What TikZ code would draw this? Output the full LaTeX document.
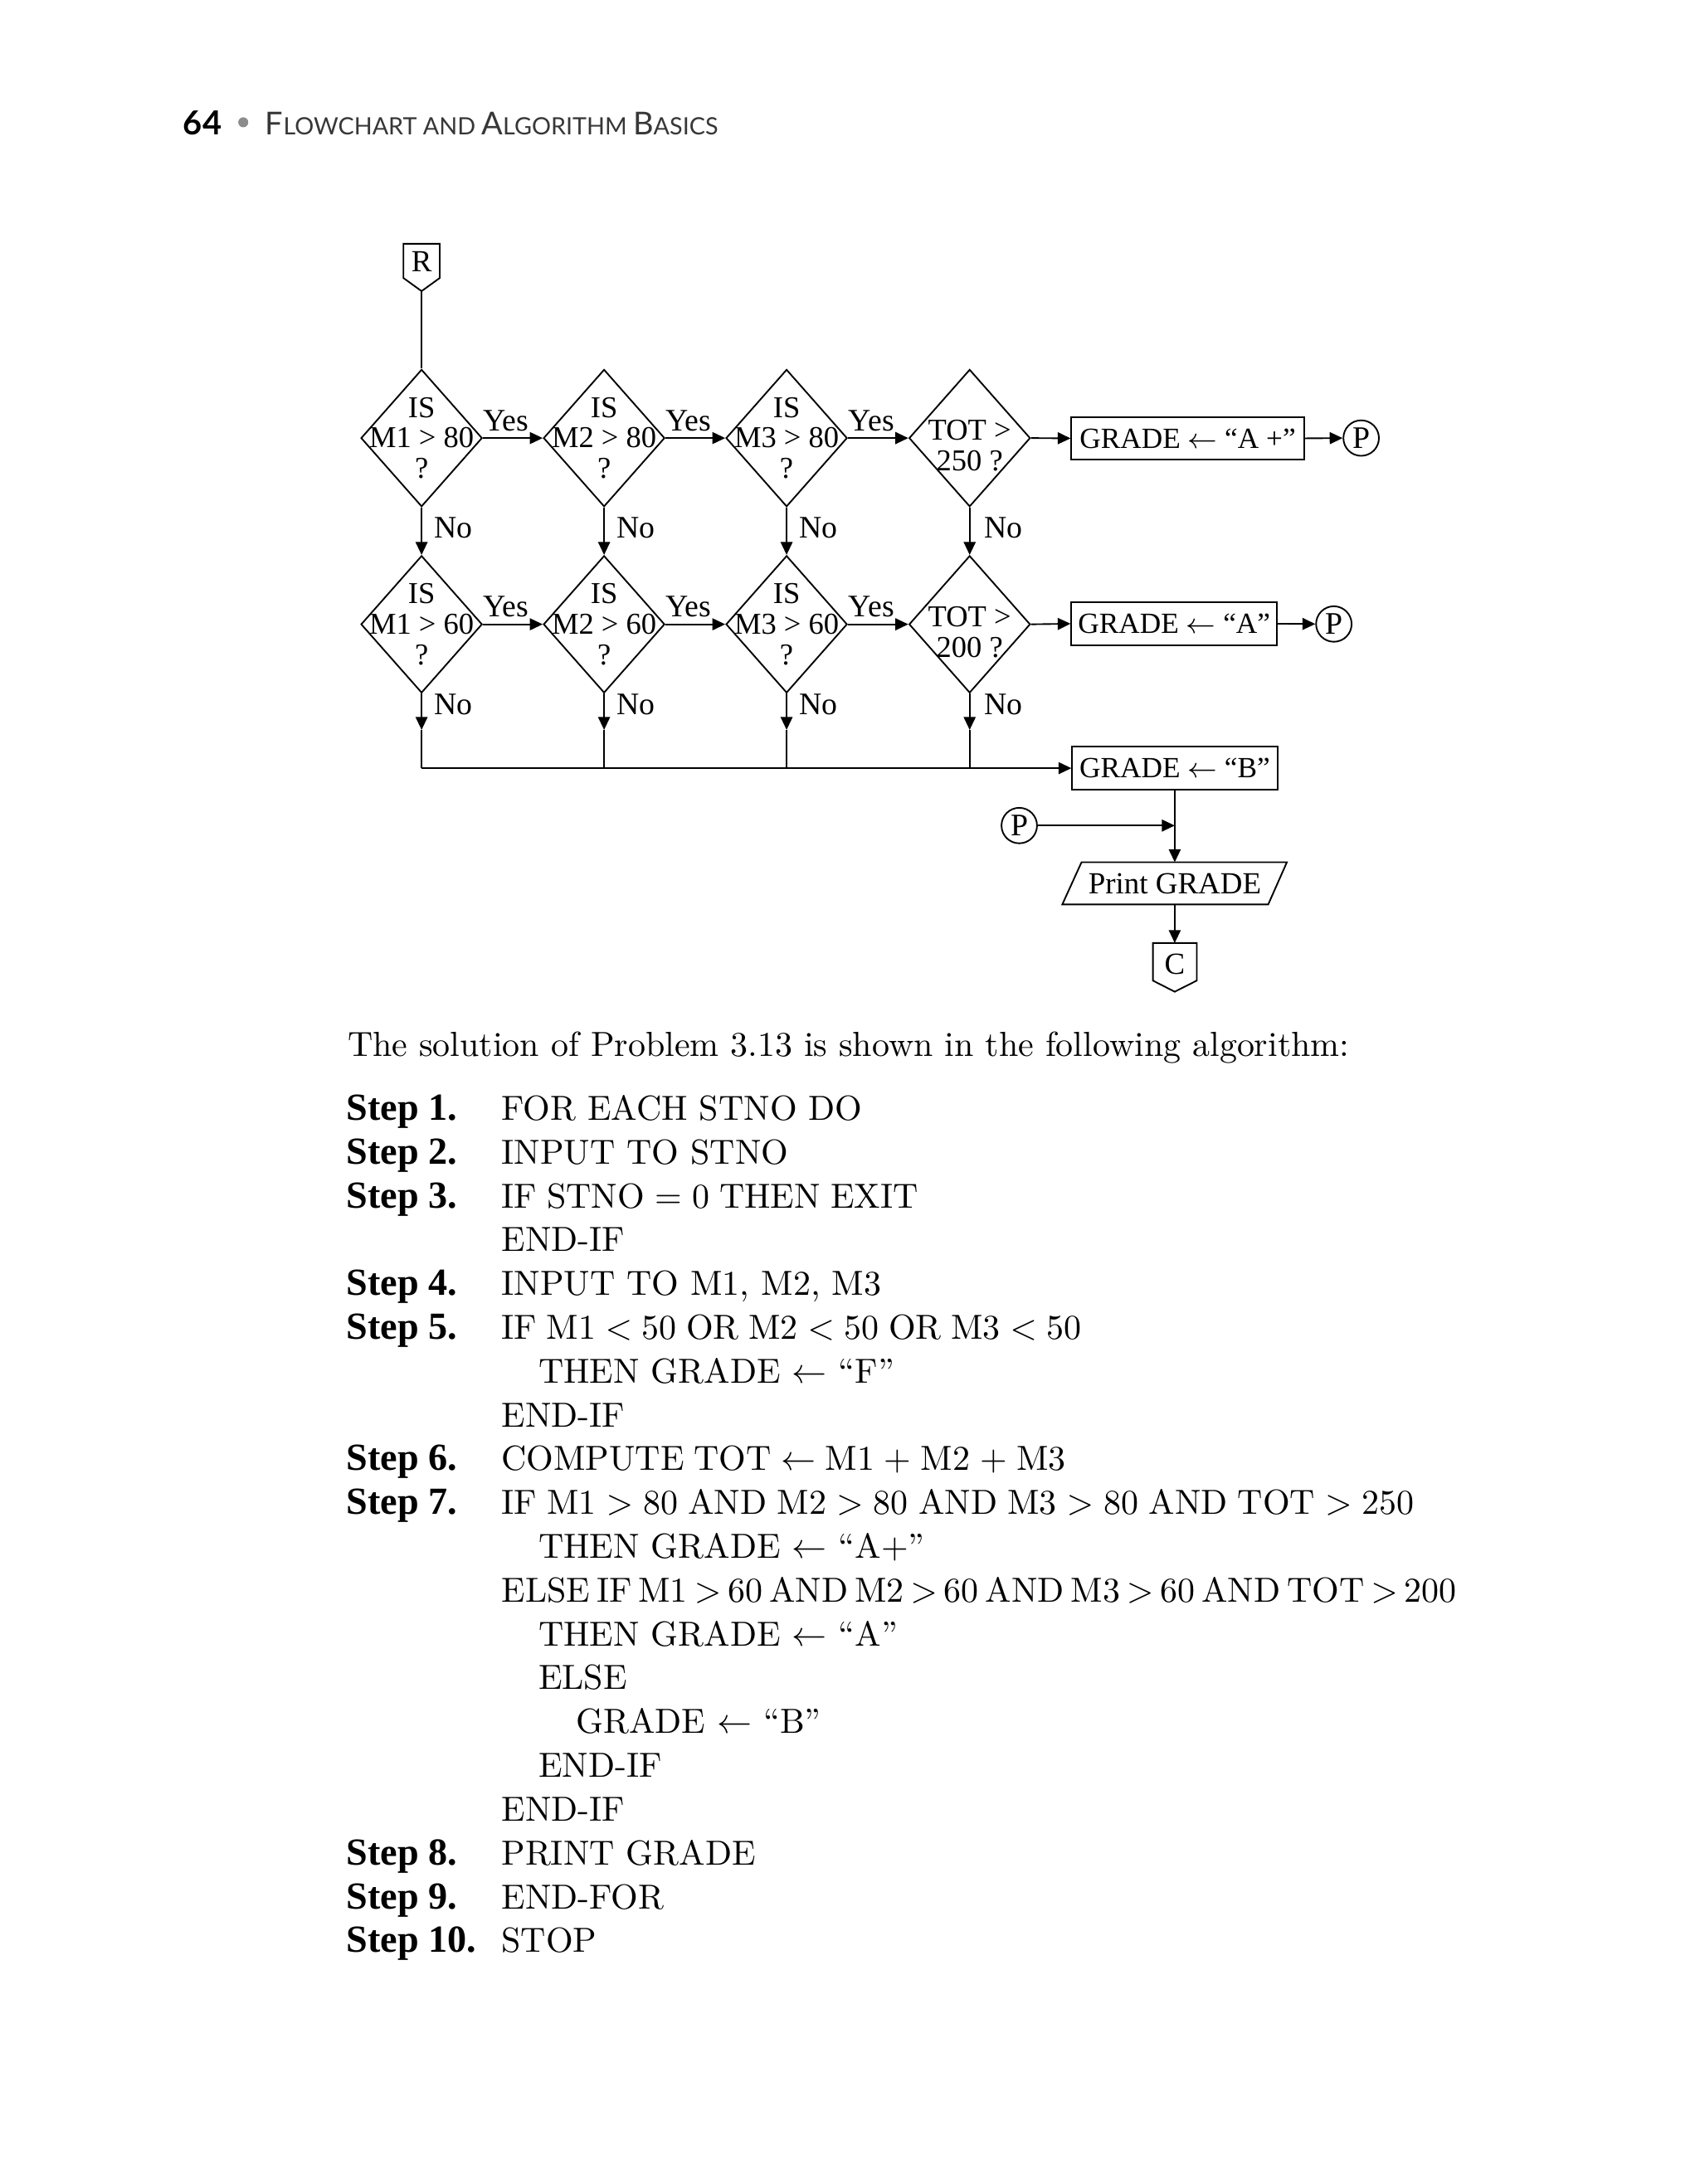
\documentclass[tikz,border=0pt]{standalone}
\usepackage{fontspec}
\usetikzlibrary{arrows.meta,shapes.geometric}
\newfontfamily\fcfont{Liberation Serif}
\newfontfamily\hdfont{Lato}
\definecolor{hdgray}{RGB}{55,55,55}
\definecolor{bulletgray}{RGB}{140,140,140}
\newcommand{\hdbig}{\fontsize{9.06}{10}\selectfont}
\newcommand{\hdsml}{\fontsize{6.85}{10}\selectfont}
\begin{document}
\begin{tikzpicture}[x=0.4pt,y=-0.4pt,
  line width=0.45pt,
  arr/.style={-{Triangle[length=3.7pt,width=3.4pt]}},
  dia/.style={draw,shape=diamond,minimum width=34.8pt,minimum height=39.4pt,inner sep=0pt},
  dtext/.style={font=\fcfont\fontsize{8.7}{8.8}\selectfont,align=center,inner sep=0pt},
  fc/.style={font=\fcfont\fontsize{8.8}{10}\selectfont,inner sep=0pt},
  lbl/.style={font=\fcfont\fontsize{9}{10}\selectfont,inner sep=0pt},
  box/.style={draw,rectangle,inner sep=0pt,font=\fcfont\fontsize{8.4}{10}\selectfont},
  circ/.style={draw,circle,minimum size=10.2pt,inner sep=0pt,font=\fcfont\fontsize{9}{10}\selectfont},
  alg/.style={anchor=base west,inner sep=0pt,font=\fontsize{10}{12}\selectfont},
  stp/.style={anchor=base west,inner sep=0pt,font=\fcfont\bfseries\fontsize{11}{12}\selectfont},
]
\useasboundingbox (0,0) rectangle (1220,1568);

% ---------- header ----------
\node[anchor=base west,inner sep=0pt,font=\hdfont\bfseries\fontsize{9.5}{10}\selectfont] (pgno) at (131,96.9) {64};
\fill[bulletgray] (174.6,87.8) circle (1.44pt);
\node[anchor=base west,inner sep=0pt,text=hdgray,font=\hdfont] (hdr) at (190,96.9)
  {\hdbig F\hdsml LOWCHART AND \hdbig A\hdsml LGORITHM \hdbig B\hdsml ASICS};

% ---------- connector R ----------
\draw (289.6,175) -- (315.6,175) -- (315.6,199.6) -- (302.6,209) -- (289.6,199.6) -- cycle;
\node[fc] (rn) at (302.6,188) {R};
\coordinate (rtip) at (302.6,209);

% ---------- decisions ----------
\node[dia] (a1) at (302.6,314.5) {};
\node[dia] (a2) at (433.6,314.5) {};
\node[dia] (a3) at (564.6,314.5) {};
\node[dia] (a4) at (696,314.5) {};
\node[dia] (b1) at (302.6,448.2) {};
\node[dia] (b2) at (433.6,448.2) {};
\node[dia] (b3) at (564.6,448.2) {};
\node[dia] (b4) at (696,448.2) {};

\node[dtext] (ta1) at (a1) {IS\\M1 > 80\\?};
\node[dtext] (ta2) at (a2) {IS\\M2 > 80\\?};
\node[dtext] (ta3) at (a3) {IS\\M3 > 80\\?};
\node[dtext,yshift=-2.26pt] (ta4) at (a4) {TOT >\\250 ?};
\node[dtext] (tb1) at (b1) {IS\\M1 > 60\\?};
\node[dtext] (tb2) at (b2) {IS\\M2 > 60\\?};
\node[dtext] (tb3) at (b3) {IS\\M3 > 60\\?};
\node[dtext,yshift=-2.26pt] (tb4) at (b4) {TOT >\\200 ?};

\draw (rtip) -- (a1.north);

% Yes arrows
\draw[arr] (a1.east) -- (a2.west);
\draw[arr] (a2.east) -- (a3.west);
\draw[arr] (a3.east) -- (a4.west);
\draw[arr] (b1.east) -- (b2.west);
\draw[arr] (b2.east) -- (b3.west);
\draw[arr] (b3.east) -- (b4.west);
\node[lbl,anchor=base] (y1) at (363,309.6) {Yes};
\node[lbl,anchor=base] (y2) at (494,309.6) {Yes};
\node[lbl,anchor=base] (y3) at (625.5,309.6) {Yes};
\node[lbl,anchor=base] (y4) at (363,443) {Yes};
\node[lbl,anchor=base] (y5) at (494,443) {Yes};
\node[lbl,anchor=base] (y6) at (625.5,443) {Yes};

% No arrows row 1 -> row 2
\draw[arr] (a1.south) -- (b1.north);
\draw[arr] (a2.south) -- (b2.north);
\draw[arr] (a3.south) -- (b3.north);
\draw[arr] (a4.south) -- (b4.north);
\node[lbl,anchor=base west] (n1) at (311,386) {No};
\node[lbl,anchor=base west] (n2) at (442,386) {No};
\node[lbl,anchor=base west] (n3) at (573,386) {No};
\node[lbl,anchor=base west] (n4) at (706,386) {No};

% No arrows row 2 -> collector
\coordinate (c1) at (302.6,524); \coordinate (e1) at (302.6,551.5);
\coordinate (c2) at (433.6,524); \coordinate (e2) at (433.6,551.5);
\coordinate (c3) at (564.6,524); \coordinate (e3) at (564.6,551.5);
\coordinate (c4) at (696,524);   \coordinate (e4) at (696,551.5);
\draw[arr] (b1.south) -- (c1); \draw (c1) -- (e1);
\draw[arr] (b2.south) -- (c2); \draw (c2) -- (e2);
\draw[arr] (b3.south) -- (c3); \draw (c3) -- (e3);
\draw[arr] (b4.south) -- (c4); \draw (c4) -- (e4);
\node[lbl,anchor=base west] (m1) at (311,513.3) {No};
\node[lbl,anchor=base west] (m2) at (442,513.3) {No};
\node[lbl,anchor=base west] (m3) at (573,513.3) {No};
\node[lbl,anchor=base west] (m4) at (706,513.3) {No};

% ---------- process boxes ----------
\node[box,minimum width=66.8pt,minimum height=12.24pt] (gap) at (852.5,314.7) {GRADE $\leftarrow$ “A +”};
\node[box,minimum width=59.04pt,minimum height=12.2pt] (ga) at (842.8,447.8) {GRADE $\leftarrow$ “A”};
\node[box,minimum width=58.9pt,minimum height=12.4pt] (gb) at (843.2,551.5) {GRADE $\leftarrow$ “B”};
\node[circ] (p1) at (977,314.5) {P};
\node[circ] (p2) at (957.4,448) {P};
\node[circ] (p3) at (731.6,592.7) {P};

\draw[arr] (a4.east) -- (gap.west);
\draw[arr] (b4.east) -- (ga.west);
\draw[arr] (gap.east) -- (p1.west);
\draw[arr] (ga.east) -- (p2.west);
\draw[arr] (e1) -- (gb.west);

% ---------- print and C ----------
\coordinate (jn) at (843.2,592.7);
\coordinate (prtop) at (843.2,619);
\coordinate (prbot) at (843.2,649.3);
\coordinate (ctop) at (843.2,677);
\draw[arr] (gb.south) -- (prtop);
\draw[arr] (p3.east) -- (jn);
\draw (776.3,619) -- (923.7,619) -- (910.3,649.3) -- (762.5,649.3) -- cycle;
\node[fc] (prn) at (843.2,634.3) {Print GRADE};
\draw[arr] (prbot) -- (ctop);
\draw (827.5,677) -- (859,677) -- (859,704) -- (843.2,712) -- (827.5,704) -- cycle;
\node[fc] (cn) at (843.2,692) {C};

% ---------- algorithm ----------
\node[alg] (intro) at (249,758.4) {The solution of Problem 3.13 is shown in the following algorithm:};

\node[stp] (s1)  at (248.2,804.2) {Step 1.};
\node[alg] (l0)  at (359.4,804.2) {FOR EACH STNO DO};
\node[stp] (s2)  at (248.2,835.65) {Step 2.};
\node[alg] (l1)  at (359.4,835.65) {INPUT TO STNO};
\node[stp] (s3)  at (248.2,867.1) {Step 3.};
\node[alg] (l2)  at (359.4,867.1) {\spaceskip=2.9pt IF STNO = 0 THEN EXIT};
\node[alg] (l3)  at (359.4,898.55) {END-IF};
\node[stp] (s4)  at (248.2,930.0) {Step 4.};
\node[alg] (l4)  at (359.4,930.0) {INPUT TO M1, M2, M3};
\node[stp] (s5)  at (248.2,961.45) {Step 5.};
\node[alg] (l5)  at (359.4,961.45) {\spaceskip=2.75pt IF M1 $<$ 50 OR M2 $<$ 50 OR M3 $<$ 50};
\node[alg] (l6)  at (386,992.9) {THEN GRADE $\leftarrow$ “F”};
\node[alg] (l7)  at (359.4,1024.35) {END-IF};
\node[stp] (s6)  at (248.2,1055.8) {Step 6.};
\node[alg] (l8)  at (359.4,1055.8) {\spaceskip=2.75pt COMPUTE TOT $\leftarrow$ M1 + M2 + M3};
\node[stp] (s7)  at (248.2,1087.25) {Step 7.};
\node[alg] (l9)  at (359.4,1087.25) {\spaceskip=2.88pt IF M1 $>$ 80 AND M2 $>$ 80 AND M3 $>$ 80 AND TOT $>$ 250};
\node[alg] (l10) at (386,1118.7) {THEN GRADE $\leftarrow$ “A+”};
\node[alg] (l11) at (359.4,1150.15) {\spaceskip=1.87pt ELSE IF M1 $>$ 60 AND M2 $>$ 60 AND M3 $>$ 60 AND TOT $>$ 200};
\node[alg] (l12) at (386,1181.6) {THEN GRADE $\leftarrow$ “A”};
\node[alg] (l13) at (386,1213.05) {ELSE};
\node[alg] (l14) at (412.9,1244.5) {GRADE $\leftarrow$ “B”};
\node[alg] (l15) at (386,1275.95) {END-IF};
\node[alg] (l16) at (359.4,1307.4) {END-IF};
\node[stp] (s8)  at (248.2,1338.85) {Step 8.};
\node[alg] (l17) at (359.4,1338.85) {PRINT GRADE};
\node[stp] (s9)  at (248.2,1370.3) {Step 9.};
\node[alg] (l18) at (359.4,1370.3) {END-FOR};
\node[stp] (s10) at (248.2,1401.75) {Step 10.};
\node[alg] (l19) at (359.4,1401.75) {STOP};
\end{tikzpicture}
\end{document}
